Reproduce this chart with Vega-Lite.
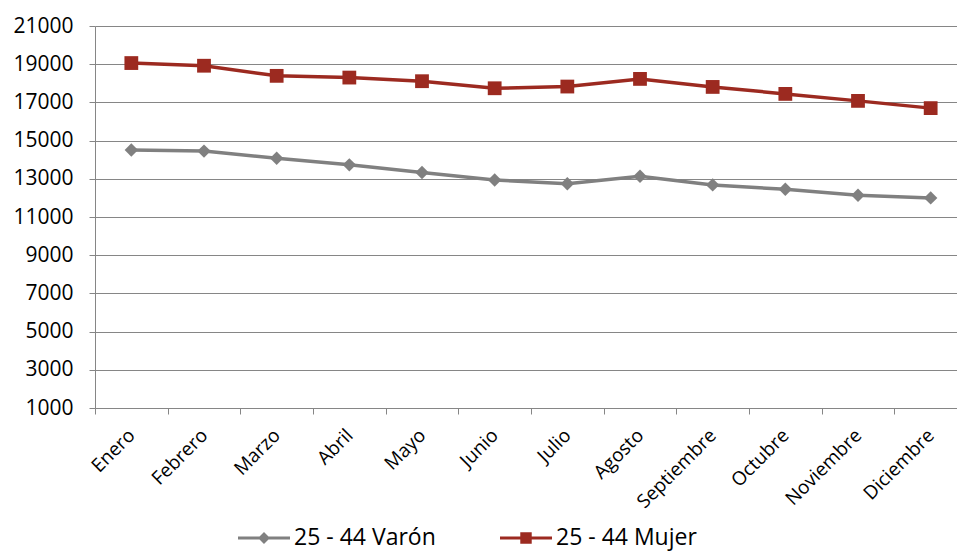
{
  "$schema": "https://vega.github.io/schema/vega-lite/v6.json",
  "autosize": "none",
  "padding": {"left": 95, "top": 26, "right": -10, "bottom": 147},
  "width": 872,
  "height": 382,
  "background": "white",
  "data": {
    "values": [
      {"mes": "Enero", "serie": "25 - 44 Varón", "valor": 14510},
      {"mes": "Febrero", "serie": "25 - 44 Varón", "valor": 14450},
      {"mes": "Marzo", "serie": "25 - 44 Varón", "valor": 14080},
      {"mes": "Abril", "serie": "25 - 44 Varón", "valor": 13730},
      {"mes": "Mayo", "serie": "25 - 44 Varón", "valor": 13330},
      {"mes": "Junio", "serie": "25 - 44 Varón", "valor": 12940},
      {"mes": "Julio", "serie": "25 - 44 Varón", "valor": 12740},
      {"mes": "Agosto", "serie": "25 - 44 Varón", "valor": 13130},
      {"mes": "Septiembre", "serie": "25 - 44 Varón", "valor": 12680},
      {"mes": "Octubre", "serie": "25 - 44 Varón", "valor": 12450},
      {"mes": "Noviembre", "serie": "25 - 44 Varón", "valor": 12140},
      {"mes": "Diciembre", "serie": "25 - 44 Varón", "valor": 12000},
      {"mes": "Enero", "serie": "25 - 44 Mujer", "valor": 19060},
      {"mes": "Febrero", "serie": "25 - 44 Mujer", "valor": 18920},
      {"mes": "Marzo", "serie": "25 - 44 Mujer", "valor": 18390},
      {"mes": "Abril", "serie": "25 - 44 Mujer", "valor": 18300},
      {"mes": "Mayo", "serie": "25 - 44 Mujer", "valor": 18110},
      {"mes": "Junio", "serie": "25 - 44 Mujer", "valor": 17740},
      {"mes": "Julio", "serie": "25 - 44 Mujer", "valor": 17830},
      {"mes": "Agosto", "serie": "25 - 44 Mujer", "valor": 18230},
      {"mes": "Septiembre", "serie": "25 - 44 Mujer", "valor": 17810},
      {"mes": "Octubre", "serie": "25 - 44 Mujer", "valor": 17445},
      {"mes": "Noviembre", "serie": "25 - 44 Mujer", "valor": 17080},
      {"mes": "Diciembre", "serie": "25 - 44 Mujer", "valor": 16700}
    ]
  },
  "encoding": {
    "x": {
      "field": "mes",
      "type": "nominal",
      "sort": ["Enero", "Febrero", "Marzo", "Abril", "Mayo", "Junio", "Julio", "Agosto", "Septiembre", "Octubre", "Noviembre", "Diciembre"],
      "scale": {"type": "band", "paddingInner": 0, "paddingOuter": 0},
      "axis": {
        "title": null,
        "labelAngle": -45,
        "labelAlign": "right",
        "labelBaseline": "middle",
        "labelPadding": 18,
        "labelFontSize": 19,
        "tickBand": "extent",
        "tickSize": 6,
        "tickColor": "#868686",
        "domainColor": "#868686",
        "grid": false
      }
    },
    "y": {
      "field": "valor",
      "type": "quantitative",
      "scale": {"domain": [1000, 21000], "nice": false, "zero": false},
      "axis": {
        "title": null,
        "values": [1000, 3000, 5000, 7000, 9000, 11000, 13000, 15000, 17000, 19000, 21000],
        "format": "d",
        "grid": true,
        "gridColor": "#868686",
        "gridWidth": 1,
        "tickSize": 6,
        "tickColor": "#868686",
        "domainColor": "#868686",
        "labelPadding": 16,
        "labelFontSize": 21
      }
    },
    "color": {
      "field": "serie",
      "type": "nominal",
      "scale": {"domain": ["25 - 44 Varón", "25 - 44 Mujer"], "range": ["#808080", "#9c2a20"]},
      "legend": {
        "title": null,
        "orient": "none",
        "direction": "horizontal",
        "legendX": 143,
        "legendY": 486,
        "symbolSize": 2704,
        "symbolStrokeWidth": 0,
        "labelOffset": 4,
        "columnPadding": 64,
        "labelFontSize": 23,
        "labelColor": "#000000",
        "encode": {
          "symbols": {
            "update": {
              "shape": {"signal": "datum.value === '25 - 44 Varón' ? 'M-1,-0.055H1V0.055H-1Z M0,-0.23L0.23,0L0,0.23L-0.23,0Z' : 'M-1,-0.055H1V0.055H-1Z M-0.22,-0.22H0.22V0.22H-0.22Z'"},
              "fill": {"signal": "datum.value === '25 - 44 Varón' ? '#808080' : '#9c2a20'"},
              "strokeWidth": {"value": 0},
              "opacity": {"value": 1}
            }
          }
        }
      }
    }
  },
  "layer": [
    {
      "mark": {"type": "line", "strokeWidth": 3.5}
    },
    {
      "transform": [{"filter": "datum.serie === '25 - 44 Varón'"}],
      "mark": {"type": "point", "filled": true, "opacity": 1, "shape": "diamond", "size": 180}
    },
    {
      "transform": [{"filter": "datum.serie === '25 - 44 Mujer'"}],
      "mark": {"type": "point", "filled": true, "opacity": 1, "shape": "square", "size": 190}
    }
  ],
  "config": {
    "font": "Open Sans",
    "axis": {"labelColor": "#000000"},
    "view": {"stroke": null}
  }
}
